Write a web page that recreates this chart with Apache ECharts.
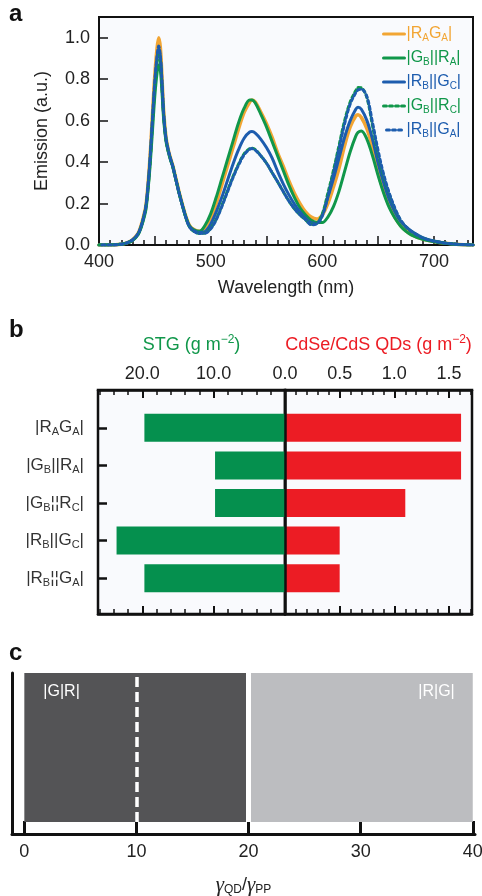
<!DOCTYPE html>
<html><head><meta charset="utf-8">
<script src="https://cdn.jsdelivr.net/npm/echarts@6/dist/echarts.min.js"></script>
<style>html,body{margin:0;padding:0;background:#fff}#c{width:482px;height:896px}</style>
</head><body><div id="c"></div>
<script>
// ---------- Panel a: emission spectra ----------
const wavelength = [400,410,420,425,430,435,438,440,442,444,446,448,450,452,453.5,
  455,456.5,458,460,462,464,466,468,470,472,475,478,481,485,490,
  495,500,505,510,515,520,525,530,535,537,
  540,545,550,555,560,565,570,575,580,585,
  590,595,600,605,610,615,620,625,630,632,
  635,640,645,650,655,660,665,670,675,680,
  690,700,710,720,735];
const emRAGA = [0,0,0.004,0.01,0.025,0.056,0.1,0.14,0.19,0.3,0.45,0.64,0.82,0.95,1.0,
  0.95,0.8,0.64,0.52,0.46,0.42,0.385,0.34,0.295,0.25,0.19,0.135,0.095,0.075,0.066,
  0.085,0.13,0.2,0.29,0.38,0.47,0.56,0.64,0.69,0.70,
  0.69,0.64,0.585,0.52,0.445,0.38,0.31,0.25,0.2,0.16,
  0.135,0.125,0.145,0.2,0.28,0.37,0.48,0.57,0.622,0.628,
  0.615,0.56,0.47,0.35,0.26,0.19,0.135,0.095,0.068,0.05,
  0.028,0.017,0.009,0.004,0];
const emGBRA = [0,0,0.004,0.009,0.022,0.05,0.088,0.125,0.17,0.27,0.4,0.56,0.72,0.83,0.87,
  0.84,0.73,0.6,0.5,0.45,0.41,0.38,0.335,0.29,0.245,0.185,0.13,0.093,0.073,0.066,
  0.095,0.15,0.23,0.32,0.41,0.5,0.59,0.66,0.70,0.70,
  0.685,0.63,0.57,0.5,0.43,0.36,0.29,0.23,0.18,0.145,
  0.12,0.108,0.108,0.135,0.185,0.26,0.355,0.45,0.525,0.543,
  0.55,0.51,0.43,0.335,0.25,0.18,0.13,0.092,0.066,0.048,
  0.027,0.016,0.008,0.003,0];
const emRBGC = [0,0,0.004,0.01,0.024,0.054,0.095,0.135,0.185,0.29,0.43,0.61,0.78,0.9,0.945,
  0.9,0.77,0.62,0.51,0.455,0.415,0.38,0.335,0.29,0.245,0.185,0.13,0.09,0.07,0.06,
  0.065,0.1,0.16,0.23,0.31,0.39,0.46,0.515,0.545,0.547,
  0.54,0.51,0.47,0.42,0.355,0.295,0.243,0.198,0.16,0.13,
  0.108,0.105,0.145,0.23,0.32,0.42,0.52,0.6,0.655,0.665,
  0.655,0.6,0.51,0.395,0.3,0.22,0.16,0.115,0.088,0.066,
  0.035,0.019,0.009,0.004,0];
const emGBRC = [0,0,0.004,0.01,0.023,0.052,0.092,0.13,0.18,0.28,0.42,0.6,0.76,0.88,0.93,
  0.89,0.76,0.62,0.51,0.455,0.415,0.38,0.335,0.29,0.245,0.185,0.13,0.088,0.066,0.056,
  0.058,0.08,0.125,0.19,0.26,0.33,0.39,0.44,0.465,0.467,
  0.46,0.43,0.395,0.35,0.305,0.258,0.213,0.175,0.145,0.122,
  0.1,0.105,0.15,0.25,0.36,0.48,0.6,0.69,0.745,0.76,
  0.758,0.71,0.575,0.44,0.33,0.245,0.175,0.12,0.086,0.064,
  0.034,0.019,0.009,0.004,0];
const emRBGA = [0,0,0.004,0.01,0.024,0.054,0.095,0.135,0.185,0.29,0.44,0.62,0.79,0.91,0.96,
  0.91,0.78,0.63,0.515,0.46,0.418,0.382,0.337,0.29,0.245,0.185,0.13,0.088,0.066,0.056,
  0.057,0.078,0.122,0.185,0.255,0.325,0.385,0.435,0.462,0.465,
  0.458,0.43,0.395,0.35,0.305,0.258,0.213,0.176,0.146,0.123,
  0.098,0.103,0.14,0.235,0.345,0.465,0.585,0.68,0.735,0.748,
  0.752,0.715,0.59,0.455,0.34,0.25,0.178,0.122,0.088,0.065,
  0.034,0.019,0.009,0.004,0];
const seriesNames = ['RAGA','GBRA','RBGC','GBRC','RBGA'];
const seriesLabels = ['|R{s|A}G{s|A}|','|G{s|B}||R{s|A}|','|R{s|B}||G{s|C}|','|G{s|B}||R{s|C}|','|R{s|B}||G{s|A}|'];

// ---------- Panel b: material loading ----------
const categories = ['|R{s|A}G{s|A}|','|G{s|B}||R{s|A}|','|G{s|B}¦¦R{s|C}|','|R{s|B}||G{s|C}|','|R{s|B}¦¦G{s|A}|'];
const stgLoad = [19.7, 9.8, 9.8, 23.6, 19.7];
const qdLoad = [1.61, 1.61, 1.10, 0.50, 0.50];

// ---------- Panel c: phase regions ----------
const ratioTicks = [0, 10, 20, 30, 40];
const regionStart = [0, 20];
const regionEnd = [20, 40];
const regionLabels = ['|G|R|', '|R|G|'];
const dashedBoundary = [10];
const solidBoundary = [20];

// ---------- styles ----------
const FF = "'Liberation Sans', Arial, Helvetica, sans-serif";
const cOrange = '#f2a533', cGreen = '#10974a', cBlue = '#1d5cae';
const lineColors = [cOrange, cGreen, cBlue, cGreen, cBlue];
const lineDash = ['solid','solid','solid',[3,3],[3,3]];
const lineWidths = [3.5,3,3,3,3];
const emData = [emRAGA, emGBRA, emRBGC, emGBRC, emRBGA];
const regionColors = ['#545456', '#bcbdc0'];
const bgPlot = '#f9fafd';
const txt = '#222';

const chart = echarts.init(document.getElementById('c'), null, {renderer:'canvas'});

const noSplit = {show:false};
const lineSeries = seriesNames.map((n,i)=>({
  type:'line', name:n, xAxisIndex:0, yAxisIndex:0, symbol:'none', smooth:0.35,
  data: wavelength.map((w,k)=>[w, emData[i][k]]),
  lineStyle:{color:lineColors[i], width:lineWidths[i], type:lineDash[i], dashOffset: i===4?3:0, cap:'round'},
  itemStyle:{color:lineColors[i]},
  z: 2+i, animation:false
}));

const gridBase = {outerBoundsMode:'none', containLabel:false};
const option = {
  animation:false,
  textStyle:{fontFamily:FF},
  graphic:[
    {type:'text', left:9, top:2, style:{text:'a', font:'bold 24px '+FF, fill:'#111'}},
    {type:'text', left:9, top:318, style:{text:'b', font:'bold 24px '+FF, fill:'#111'}},
    {type:'text', left:9, top:641, style:{text:'c', font:'bold 24px '+FF, fill:'#111'}}
  ],
  legend:{
    orient:'vertical', left:377, top:20, itemWidth:21, itemHeight:12, itemGap:6,
    data: seriesNames.map((n,i)=>({name:n, textStyle:{color:lineColors[i]}})),
    formatter: name => seriesLabels[seriesNames.indexOf(name)],
    itemStyle:{opacity:0},
    lineStyle:{width:3},
    textStyle:{fontSize:16, fontFamily:FF, lineHeight:18, padding:[0,0,0,-3],
      rich:{s:{fontSize:10, lineHeight:10, verticalAlign:'bottom', fontFamily:FF}}},
    selectedMode:false
  },
  grid:[
    {...gridBase, left:99, top:17, width:374, height:228, show:true, borderColor:'#111', borderWidth:2, backgroundColor:bgPlot},
    {...gridBase, left:98, top:390, width:187, height:224, show:true, borderColor:'#111', borderWidth:2.5, backgroundColor:bgPlot},
    {...gridBase, left:285, top:390, width:187, height:224, show:true, borderColor:'#111', borderWidth:2.5, backgroundColor:bgPlot},
    {...gridBase, left:98, top:409, width:187, height:188},
    {...gridBase, left:285, top:409, width:187, height:188},
    {...gridBase, left:12, top:673, width:463, height:161}
  ],
  xAxis:[
    {gridIndex:0, type:'value', min:400, max:735, interval:50,
      axisLine:{onZero:false, lineStyle:{color:'#111', width:2}},
      axisTick:{inside:true, length:9, lineStyle:{color:'#111', width:1.5}},
      minorTick:{show:true, splitNumber:5, length:5, lineStyle:{color:'#111', width:1.5}},
      axisLabel:{fontSize:18, color:txt, margin:8, formatter:v=> (v%100===0 ? String(v) : '')},
      splitLine:noSplit, minorSplitLine:noSplit,
      name:'Wavelength (nm)', nameLocation:'middle', nameGap:34, nameTextStyle:{fontSize:18, color:txt}},
    {gridIndex:1, type:'value', position:'top', inverse:true, min:0, max:26.2, interval:10,
      axisLine:{onZero:false, lineStyle:{color:'#111', width:2.5}},
      axisTick:{inside:true, length:8, lineStyle:{color:'#111', width:2}},
      minorTick:{show:true, splitNumber:5, length:5, lineStyle:{color:'#111', width:1.5}},
      axisLabel:{fontSize:18, color:txt, margin:7, formatter:v=> (v>25 ? '' : v.toFixed(1))},
      splitLine:noSplit,
      name:'STG (g m{sup|−2})', nameLocation:'middle', nameGap:34,
      nameTextStyle:{fontSize:18, color:'#10974a', lineHeight:22, rich:{sup:{fontSize:12, lineHeight:12, verticalAlign:'top', color:'#10974a'}}}},
    {gridIndex:1, type:'value', position:'bottom', inverse:true, min:0, max:26.2, interval:10,
      axisLine:{onZero:false, lineStyle:{color:'#111', width:2.5}},
      axisTick:{inside:true, length:8, lineStyle:{color:'#111', width:2}},
      minorTick:{show:true, splitNumber:5, length:5, lineStyle:{color:'#111', width:1.5}},
      axisLabel:{show:false}, splitLine:noSplit},
    {gridIndex:2, type:'value', position:'top', min:0, max:1.71, interval:0.5,
      axisLine:{onZero:false, lineStyle:{color:'#111', width:2.5}},
      axisTick:{inside:true, length:8, lineStyle:{color:'#111', width:2}},
      minorTick:{show:true, splitNumber:5, length:5, lineStyle:{color:'#111', width:1.5}},
      axisLabel:{fontSize:18, color:txt, margin:7, formatter:v=> ((v===0||v>1.6) ? '' : v.toFixed(1))},
      splitLine:noSplit,
      name:'CdSe/CdS QDs (g m{sup|−2})', nameLocation:'middle', nameGap:34,
      nameTextStyle:{fontSize:18, color:'#ec1c24', lineHeight:22, rich:{sup:{fontSize:12, lineHeight:12, verticalAlign:'top', color:'#ec1c24'}}}},
    {gridIndex:2, type:'value', position:'bottom', min:0, max:1.71, interval:0.5,
      axisLine:{onZero:false, lineStyle:{color:'#111', width:2.5}},
      axisTick:{inside:true, length:8, lineStyle:{color:'#111', width:2}},
      minorTick:{show:true, splitNumber:5, length:5, lineStyle:{color:'#111', width:1.5}},
      axisLabel:{show:false}, splitLine:noSplit},
    {gridIndex:3, type:'value', inverse:true, min:0, max:26.2, show:false, splitLine:noSplit},
    {gridIndex:4, type:'value', min:0, max:1.71, show:false, splitLine:noSplit},
    {gridIndex:5, type:'value', min:-1.1, max:40.2,
      axisLine:{onZero:false, lineStyle:{color:'#111', width:3}},
      axisTick:{inside:true, length:13, customValues:ratioTicks, lineStyle:{color:'#111', width:3}},
      axisLabel:{fontSize:18, color:txt, margin:9, customValues:ratioTicks, formatter:v=>String(v)},
      splitLine:noSplit,
      name:'{g|γ}{s|QD}{n|/}{g|γ}{s|PP}', nameLocation:'middle', nameGap:40,
      nameTextStyle:{color:txt, rich:{
        g:{fontFamily:"'Liberation Serif', 'DejaVu Serif', serif", fontStyle:'italic', fontSize:21, lineHeight:22, color:txt},
        s:{fontFamily:FF, fontSize:12, lineHeight:12, verticalAlign:'bottom', color:txt},
        n:{fontFamily:FF, fontSize:18, lineHeight:22, color:txt}}}}
  ],
  yAxis:[
    {gridIndex:0, type:'value', min:0, max:1.1, interval:0.2,
      axisLine:{show:true, onZero:false, lineStyle:{color:'#111', width:2}},
      axisTick:{show:true, inside:true, length:9, lineStyle:{color:'#111', width:1.5}},
      axisLabel:{fontSize:18, color:txt, margin:9, formatter:v=> (v>1.05 ? '' : v.toFixed(1))},
      splitLine:noSplit,
      name:'Emission (a.u.)', nameLocation:'middle', nameGap:48, nameTextStyle:{fontSize:18, color:txt}},
    {gridIndex:1, type:'value', min:0, max:1, show:false, splitLine:noSplit},
    {gridIndex:2, type:'value', min:0, max:1, z:10,
      axisLine:{show:true, onZero:false, lineStyle:{color:'#111', width:2.5}},
      axisTick:{show:false}, axisLabel:{show:false}, splitLine:noSplit},
    {gridIndex:3, type:'category', inverse:true, data:categories,
      axisLine:{show:false, onZero:false},
      axisTick:{show:true, inside:true, alignWithLabel:true, length:9, lineStyle:{color:'#111', width:2.5}},
      axisLabel:{fontSize:17, color:'#333', margin:14, lineHeight:20,
        rich:{s:{fontSize:11, lineHeight:11, verticalAlign:'bottom', color:'#333', fontFamily:FF}}}},
    {gridIndex:4, type:'category', inverse:true, data:categories, show:false},
    {gridIndex:5, type:'value', min:-0.08, max:1,
      axisLine:{show:true, onZero:false, lineStyle:{color:'#111', width:3}},
      axisTick:{show:false}, axisLabel:{show:false}, splitLine:noSplit}
  ],
  series:[
    ...lineSeries,
    {type:'bar', name:'STG', xAxisIndex:5, yAxisIndex:3, data:stgLoad, barWidth:28,
      itemStyle:{color:'#05904e'}, z:3},
    {type:'bar', name:'QD', xAxisIndex:6, yAxisIndex:4, data:qdLoad, barWidth:28,
      itemStyle:{color:'#ec1c24'}, z:3},
    {type:'custom', name:'regions', xAxisIndex:7, yAxisIndex:5,
      data: regionStart.map((s,i)=>[s, regionEnd[i], 0, 1]),
      encode:{x:[0,1], y:[2,3]},
      renderItem:(params, api)=>{
        const i = params.dataIndex;
        const p0 = api.coord([api.value(0), api.value(3)]);
        const p1 = api.coord([api.value(1), api.value(2)]);
        const left = i===0;
        return {type:'group', children:[
          {type:'rect', shape:{x:p0[0], y:p0[1], width:p1[0]-p0[0], height:p1[1]-p0[1]}, style:{fill:regionColors[i]}},
          {type:'text', style:{text:regionLabels[i], x: left ? p0[0]+19 : p1[0]-18, y:p0[1]+19,
            align: left?'left':'right', verticalAlign:'middle', fill:'#fff', font:'16px '+FF}}
        ]};
      },
      markLine:{silent:true, symbol:'none', label:{show:false}, animation:false,
        data:[
          [{coord:[dashedBoundary[0],0], lineStyle:{type:[10,5], width:3.5, color:'#fff'}}, {coord:[dashedBoundary[0],1]}],
          [{coord:[solidBoundary[0],0], lineStyle:{type:'solid', width:5, color:'#fff'}}, {coord:[solidBoundary[0],1]}]
        ]}
    }
  ]
};
chart.setOption(option);
</script></body></html>
